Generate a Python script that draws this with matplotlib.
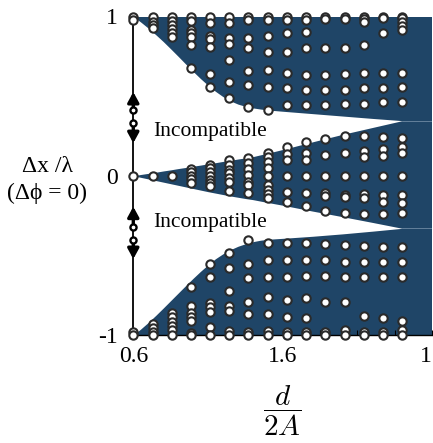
import matplotlib
matplotlib.use("Agg")
import matplotlib.pyplot as plt
import numpy as np

plt.rcParams['font.family'] = ['Liberation Serif', 'DejaVu Serif']
plt.rcParams['mathtext.fontset'] = 'cm'

# ---- data -------------------------------------------------------------
col_x = [0.6, 0.729, 0.857, 0.986, 1.114, 1.243, 1.371, 1.5, 1.629, 1.757,
         1.886, 2.014, 2.143, 2.271, 2.4]

c00 = [1.0, 0.98, 0.0, -0.98, -1.0]
c01 = [1.0, 0.967, 0.947, 0.926, 0.0, -0.931, -0.958, -0.983, -1.0]
c02 = [1.0, 0.97, 0.945, 0.92, 0.895, 0.87, 0.0,
       -0.864, -0.889, -0.916, -0.942, -0.969, -1.0]
c03 = [1.0, 0.972, 0.915, 0.894, 0.869, 0.821, 0.675,
       0.045, 0.022, 0.0, -0.022, -0.045,
       -0.70, -0.816, -0.864, -0.887, -0.91, -0.985, -1.0]
c04 = [1.0, 0.96, 0.88, 0.857, 0.81, 0.637, 0.559,
       0.07, 0.047, 0.025, 0.0, -0.025, -0.047, -0.065,
       -0.554, -0.634, -0.801, -0.822, -0.854, -0.948, -1.0]
c05 = [1.0, 0.96, 0.863, 0.83, 0.727, 0.59, 0.486,
       0.10, 0.068, 0.036, 0.015, -0.016, -0.037, -0.094,
       -0.483, -0.577, -0.724, -0.816, -0.848, -0.973, -1.0]
c06 = [1.0, 0.98, 0.865, 0.80, 0.66, 0.57, 0.43,
       0.11, 0.078, 0.042, 0.005, -0.037, -0.058, -0.11,
       -0.403, -0.554, -0.644, -0.791, -0.868, -0.983, -1.0]
c07 = [1.0, 0.975, 0.879, 0.779, 0.664, 0.559, 0.41,
       0.14, 0.115, 0.088, 0.047, 0.0, -0.058, -0.09, -0.115, -0.14,
       -0.42, -0.53, -0.635, -0.763, -0.868, -0.975, -1.0]
c08 = [1.0, 0.975, 0.894, 0.779, 0.643, 0.549, 0.444,
       0.18, 0.135, 0.1, 0.0, -0.1, -0.163,
       -0.42, -0.529, -0.634, -0.78, -0.885, -0.979, -1.0]
c09 = [1.0, 0.975, 0.905, 0.80, 0.633, 0.539, 0.444,
       0.21, 0.14, 0.1, 0.0, -0.11, -0.19,
       -0.424, -0.529, -0.63, -0.77, -0.895, -0.983, -1.0]
c10 = [1.0, 0.985, 0.80, 0.633, 0.539, 0.444,
       0.229, 0.13, 0.0, -0.11, -0.127, -0.22,
       -0.428, -0.529, -0.63, -0.79, -0.979, -1.0]
c11 = [1.0, 0.984, 0.80, 0.637, 0.539, 0.449,
       0.25, 0.145, 0.0, -0.121, -0.135, -0.236,
       -0.435, -0.54, -0.634, -0.795, -0.969, -1.0]
c12 = [1.0, 0.984, 0.963, 0.821, 0.643, 0.549, 0.451,
       0.252, 0.157, 0.12, 0.0, -0.115, -0.142, -0.24,
       -0.439, -0.54, -0.634, -0.879, -0.979, -1.0]
c13 = [1.0, 0.989, 0.894, 0.643, 0.553, 0.461,
       0.245, 0.168, 0.126, 0.0, -0.121, -0.163, -0.24,
       -0.446, -0.54, -0.634, -0.895, -0.979, -1.0]
c14 = [1.0, 0.989, 0.963, 0.942, 0.918, 0.647, 0.559, 0.461,
       0.239, 0.182, 0.141, 0.0, -0.121, -0.173, -0.236,
       -0.446, -0.54, -0.634, -0.91, -0.969, -1.0]
columns = [c00, c01, c02, c03, c04, c05, c06, c07, c08, c09, c10, c11, c12, c13, c14]

# region boundaries (compatible regions shaded)
bx = [0.6, 0.65, 0.7, 0.75, 0.8, 0.85, 0.9, 0.95, 1.0, 1.05, 1.1, 1.15, 1.2, 1.25,
      1.3, 1.35, 1.4, 1.45, 1.5, 1.6, 1.8, 2.0, 2.2, 2.4]
top_band_low = [1.0, 0.965, 0.927, 0.886, 0.843, 0.797, 0.75, 0.702, 0.655, 0.61,
                0.568, 0.53, 0.497, 0.47, 0.45, 0.436, 0.426, 0.419, 0.413,
                0.405, 0.39, 0.375, 0.36, 0.346]
mid_band_up = [0.0, 0.008, 0.015, 0.022, 0.03, 0.037, 0.045, 0.052, 0.06, 0.067,
               0.075, 0.082, 0.09, 0.097, 0.105, 0.112, 0.12, 0.131, 0.142,
               0.165, 0.213, 0.26, 0.303, 0.346]
mid_band_low = [0.0, -0.01, -0.02, -0.03, -0.04, -0.05, -0.06, -0.07, -0.08, -0.09,
                -0.1, -0.109, -0.118, -0.127, -0.135, -0.143, -0.15, -0.159,
                -0.168, -0.185, -0.222, -0.257, -0.293, -0.33]
bot_band_up = [-1.0, -0.962, -0.921, -0.877, -0.831, -0.784, -0.737, -0.69, -0.644,
               -0.6, -0.559, -0.521, -0.49, -0.464, -0.443, -0.427, -0.414,
               -0.405, -0.399, -0.393, -0.38, -0.365, -0.348, -0.33]

# arrows on the axis: (circle y, arrow tip y)
arrows = [(0.41, 0.526), (0.33, 0.205), (-0.32, -0.194), (-0.404, -0.523)]

labels_incompat = [(0.732, 0.25), (0.732, -0.32)]

# ---- figure -----------------------------------------------------------
W, H = 433, 443
fig = plt.figure(figsize=(W / 100, H / 100), dpi=100)
left_px, right_px = 133.3, 432.1
top_px, bot_px = 16.5, 335.0
ax = fig.add_axes([left_px / W, 1 - bot_px / H, (right_px - left_px) / W, (bot_px - top_px) / H])
ax.set_xlim(0.6, 2.6)
ax.set_ylim(-1, 1)

fill_c = '#1f4567'
ax.fill_between(bx, top_band_low, 1.0, color=fill_c, lw=0, zorder=1)
ax.fill_between(bx, mid_band_low, mid_band_up, color=fill_c, lw=0, zorder=1)
ax.fill_between(bx, -1.0, bot_band_up, color=fill_c, lw=0, zorder=1)
ax.fill_between([2.4, 2.6], -1.0, 1.0, color=fill_c, lw=0, zorder=1)
ax.plot([2.4, 2.6], [top_band_low[-1]] * 2, color='#6f8aa3', lw=0.6, zorder=1.5)
ax.plot([2.4, 2.6], [mid_band_low[-1]] * 2, color='#6f8aa3', lw=0.6, zorder=1.5)

for x, ys in zip(col_x, columns):
    ax.plot([x] * len(ys), ys, 'o', ms=6.0, mfc='white', mec='#2a2a2a', mew=1.5,
            ls='none', clip_on=False, zorder=5)

for cy, ty in arrows:
    ax.annotate('', xy=(0.6, ty), xytext=(0.6, cy),
                arrowprops=dict(arrowstyle='-|>,head_length=0.55,head_width=0.3',
                                lw=2.4, color='black',
                                mutation_scale=11, shrinkA=0, shrinkB=0),
                annotation_clip=False, zorder=6)
    ax.plot([0.6], [cy], 'o', ms=4.4, mfc='white', mec='black', mew=1.7,
            clip_on=False, zorder=7)

for tx, ty in labels_incompat:
    ax.text(tx, ty, 'Incompatible', fontsize=15.5, va='baseline', ha='left', zorder=4)

# axes styling
for s in ['top', 'right']:
    ax.spines[s].set_visible(False)
ax.spines['left'].set_linewidth(1.3)
ax.spines['bottom'].set_linewidth(1.0)
ax.spines['left'].set_zorder(3)

ax.set_xticks([0.6, 1.6, 2.6])
ax.set_xticklabels(['0.6', '1.6', '1'])
ax.set_xticks(np.arange(0.6, 2.61, 0.25), minor=True)
ax.tick_params(axis='x', which='both', direction='in', length=3.5, width=0.8,
               labelsize=17, pad=8)
ax.get_xticklabels()[2].set_ha('right')
ax.set_yticks([-1, 0, 1])
ax.set_yticklabels(['-1', '0', '1'])
ax.tick_params(axis='y', length=0, labelsize=17, pad=11)

ax.set_xlabel(r'$\dfrac{d}{2A}$', fontsize=21, labelpad=12)

fig.text(47 / W, 1 - 167 / H, 'Δx /λ', fontsize=17, ha='center', va='center')
fig.text(47 / W, 1 - 193 / H, '(Δϕ = 0)', fontsize=17, ha='center', va='center')

fig.savefig('out.png', dpi=100)
